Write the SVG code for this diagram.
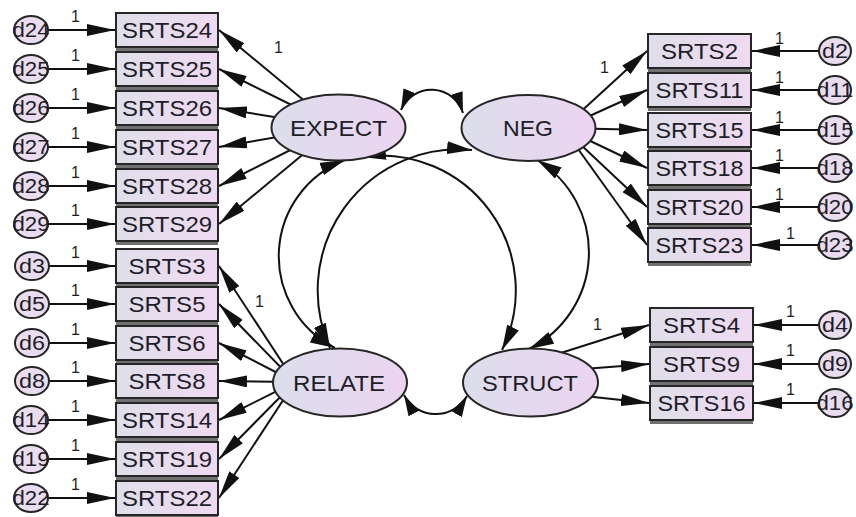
<svg xmlns="http://www.w3.org/2000/svg" width="856" height="517" viewBox="0 0 856 517">
  <defs>
    <linearGradient id="gBox" x1="0" y1="0" x2="1" y2="0">
      <stop offset="0" stop-color="#dfdeea"/>
      <stop offset="1" stop-color="#efdaf1"/>
    </linearGradient>
    <linearGradient id="gLat" x1="0" y1="0" x2="1" y2="0">
      <stop offset="0" stop-color="#dcdeeb"/>
      <stop offset="1" stop-color="#ecd4f1"/>
    </linearGradient>
    <marker id="ah" markerUnits="userSpaceOnUse" markerWidth="28" markerHeight="12" viewBox="0 0 28 12" refX="28" refY="6" orient="auto-start-reverse">
      <path d="M0,0 L28,6 L0,12 Z" fill="#111"/>
    </marker>
    <marker id="ahc" markerUnits="userSpaceOnUse" markerWidth="25" markerHeight="13" viewBox="0 0 25 13" refX="25" refY="6.5" orient="auto-start-reverse">
      <path d="M0,0 L25,6.5 L0,13 Z" fill="#111"/>
    </marker>
    <marker id="ahs" markerUnits="userSpaceOnUse" markerWidth="21" markerHeight="12" viewBox="0 0 21 12" refX="21" refY="6" orient="auto-start-reverse">
      <path d="M0,0 L21,6 L0,12 Z" fill="#111"/>
    </marker>
  </defs>
  <style>
    .box { fill: url(#gBox); stroke: #262626; stroke-width: 2; }
    .sh { fill: #707070; }
    .lat { fill: url(#gLat); stroke: #262626; stroke-width: 2; }
    .err { fill: #eadcef; stroke: #262626; stroke-width: 2; }
    .bt { font-family: "Liberation Sans", Arial, sans-serif; font-size: 22px; fill: #1e1e28; text-anchor: middle; }
    .dt { font-family: "Liberation Sans", Arial, sans-serif; font-size: 20px; fill: #1e1e28; text-anchor: middle; }
    .one { font-family: "Liberation Sans", Arial, sans-serif; font-size: 16px; fill: #1e1e1e; }
    .ln { stroke: #111; stroke-width: 2; fill: none; marker-end: url(#ah); }
    .cov { stroke: #111; stroke-width: 2; fill: none; marker-start: url(#ahc); marker-end: url(#ahc); }
    .covs { stroke: #111; stroke-width: 2; fill: none; marker-start: url(#ahs); marker-end: url(#ahs); }
  </style>
  <rect width="856" height="517" fill="#fff"/>

  <!-- paths: error terms, loadings, covariances -->
  <g id="connectors">
    <!-- error terms to indicators, left column -->
    <line class="ln" x1="48" y1="30" x2="115" y2="30"/>
    <line class="ln" x1="48" y1="69" x2="115" y2="69"/>
    <line class="ln" x1="48" y1="108" x2="115" y2="108"/>
    <line class="ln" x1="48" y1="147" x2="115" y2="147"/>
    <line class="ln" x1="48" y1="186" x2="115" y2="186"/>
    <line class="ln" x1="48" y1="224" x2="115" y2="224"/>
    <line class="ln" x1="48" y1="266" x2="115" y2="266"/>
    <line class="ln" x1="48" y1="304" x2="115" y2="304"/>
    <line class="ln" x1="48" y1="343" x2="115" y2="343"/>
    <line class="ln" x1="48" y1="381" x2="115" y2="381"/>
    <line class="ln" x1="48" y1="420" x2="115" y2="420"/>
    <line class="ln" x1="48" y1="459" x2="115" y2="459"/>
    <line class="ln" x1="48" y1="498" x2="115" y2="498"/>
    <!-- error terms to indicators, right column -->
    <line class="ln" x1="819" y1="51" x2="752" y2="51"/>
    <line class="ln" x1="819" y1="90" x2="752" y2="90"/>
    <line class="ln" x1="819" y1="130" x2="752" y2="130"/>
    <line class="ln" x1="819" y1="168" x2="752" y2="168"/>
    <line class="ln" x1="819" y1="207" x2="752" y2="207"/>
    <line class="ln" x1="819" y1="245" x2="752" y2="245"/>
    <line class="ln" x1="819" y1="325" x2="754" y2="325"/>
    <line class="ln" x1="819" y1="364" x2="754" y2="364"/>
    <line class="ln" x1="819" y1="403" x2="754" y2="403"/>
    <!-- EXPECT loadings -->
    <line class="ln" x1="336" y1="127" x2="219" y2="30"/>
    <line class="ln" x1="336" y1="127" x2="219" y2="69"/>
    <line class="ln" x1="336" y1="127" x2="219" y2="108"/>
    <line class="ln" x1="336" y1="127" x2="219" y2="147"/>
    <line class="ln" x1="336" y1="127" x2="219" y2="186"/>
    <line class="ln" x1="336" y1="127" x2="219" y2="224"/>
    <!-- RELATE loadings -->
    <line class="ln" x1="295" y1="382" x2="219" y2="266"/>
    <line class="ln" x1="295" y1="382" x2="219" y2="304"/>
    <line class="ln" x1="295" y1="382" x2="219" y2="343"/>
    <line class="ln" x1="295" y1="382" x2="219" y2="381"/>
    <line class="ln" x1="295" y1="382" x2="219" y2="420"/>
    <line class="ln" x1="295" y1="382" x2="219" y2="459"/>
    <line class="ln" x1="295" y1="382" x2="219" y2="498"/>
    <!-- NEG loadings -->
    <line class="ln" x1="563" y1="128" x2="647" y2="51"/>
    <line class="ln" x1="563" y1="128" x2="647" y2="90"/>
    <line class="ln" x1="563" y1="128" x2="647" y2="130"/>
    <line class="ln" x1="563" y1="128" x2="647" y2="168"/>
    <line class="ln" x1="563" y1="128" x2="647" y2="207"/>
    <line class="ln" x1="563" y1="128" x2="647" y2="245"/>
    <!-- STRUCT loadings -->
    <line class="ln" x1="545" y1="358" x2="649" y2="325"/>
    <line class="ln" x1="570" y1="370" x2="649" y2="364"/>
    <line class="ln" x1="575" y1="395" x2="649" y2="403"/>
    <!-- covariances -->
    <path class="covs" d="M401,110 A33,33 0 0 1 463,113"/>
    <path class="covs" d="M404,395 A36,36 0 0 0 467,396"/>
    <path class="cov" d="M345,160 A103,103 0 0 0 335,348"/>
    <path class="cov" d="M472,150 A141,141 0 0 0 330,348"/>
    <path class="cov" d="M361,157 A135,135 0 0 1 502,350"/>
    <path class="cov" d="M537,160 A108,108 0 0 1 529,349"/>
  </g>

  <!-- fixed parameter labels -->
  <g id="path-labels">
    <text class="one" x="71" y="22">1</text>
    <text class="one" x="71" y="61">1</text>
    <text class="one" x="71" y="100">1</text>
    <text class="one" x="71" y="139">1</text>
    <text class="one" x="71" y="178">1</text>
    <text class="one" x="71" y="216">1</text>
    <text class="one" x="71" y="258">1</text>
    <text class="one" x="71" y="296">1</text>
    <text class="one" x="71" y="335">1</text>
    <text class="one" x="71" y="373">1</text>
    <text class="one" x="71" y="412">1</text>
    <text class="one" x="71" y="451">1</text>
    <text class="one" x="71" y="490">1</text>
    <text class="one" x="775" y="44">1</text>
    <text class="one" x="775" y="83">1</text>
    <text class="one" x="775" y="123">1</text>
    <text class="one" x="775" y="161">1</text>
    <text class="one" x="775" y="200">1</text>
    <text class="one" x="786" y="239">1</text>
    <text class="one" x="786" y="317">1</text>
    <text class="one" x="786" y="356">1</text>
    <text class="one" x="786" y="395">1</text>
    <text class="one" x="274" y="53">1</text>
    <text class="one" x="255" y="307">1</text>
    <text class="one" x="600" y="73">1</text>
    <text class="one" x="593" y="330">1</text>
  </g>

  <!-- latent variables -->
  <g id="EXPECT"><ellipse class="lat" cx="338.5" cy="127.5" rx="67" ry="33"/><text class="bt" x="338.5" y="135.5" textLength="97" lengthAdjust="spacingAndGlyphs">EXPECT</text></g>
  <g id="NEG"><ellipse class="lat" cx="528.5" cy="128" rx="67" ry="33"/><text class="bt" x="528" y="136" textLength="50" lengthAdjust="spacingAndGlyphs">NEG</text></g>
  <g id="RELATE"><ellipse class="lat" cx="340" cy="382.5" rx="67" ry="34"/><text class="bt" x="339" y="390.5" textLength="92" lengthAdjust="spacingAndGlyphs">RELATE</text></g>
  <g id="STRUCT"><ellipse class="lat" cx="530.5" cy="382.5" rx="67.5" ry="34"/><text class="bt" x="530" y="390.5" textLength="96" lengthAdjust="spacingAndGlyphs">STRUCT</text></g>

  <!-- observed indicators, left column -->
  <g id="SRTS24"><rect class="sh" x="116" y="17" width="102" height="34"/><rect class="box" x="116" y="13" width="102" height="34"/><text class="bt" x="167" y="38" textLength="90" lengthAdjust="spacingAndGlyphs">SRTS24</text></g>
  <g id="SRTS25"><rect class="sh" x="116" y="56" width="102" height="34"/><rect class="box" x="116" y="52" width="102" height="34"/><text class="bt" x="167" y="77" textLength="90" lengthAdjust="spacingAndGlyphs">SRTS25</text></g>
  <g id="SRTS26"><rect class="sh" x="116" y="95" width="102" height="34"/><rect class="box" x="116" y="91" width="102" height="34"/><text class="bt" x="167" y="116" textLength="90" lengthAdjust="spacingAndGlyphs">SRTS26</text></g>
  <g id="SRTS27"><rect class="sh" x="116" y="134" width="102" height="34"/><rect class="box" x="116" y="130" width="102" height="34"/><text class="bt" x="167" y="155" textLength="90" lengthAdjust="spacingAndGlyphs">SRTS27</text></g>
  <g id="SRTS28"><rect class="sh" x="116" y="173" width="102" height="34"/><rect class="box" x="116" y="169" width="102" height="34"/><text class="bt" x="167" y="194" textLength="90" lengthAdjust="spacingAndGlyphs">SRTS28</text></g>
  <g id="SRTS29"><rect class="sh" x="116" y="211" width="102" height="34"/><rect class="box" x="116" y="207" width="102" height="34"/><text class="bt" x="167" y="232" textLength="90" lengthAdjust="spacingAndGlyphs">SRTS29</text></g>
  <g id="SRTS3"><rect class="sh" x="116" y="253" width="102" height="34"/><rect class="box" x="116" y="249" width="102" height="34"/><text class="bt" x="167" y="274" textLength="77" lengthAdjust="spacingAndGlyphs">SRTS3</text></g>
  <g id="SRTS5"><rect class="sh" x="116" y="291" width="102" height="34"/><rect class="box" x="116" y="287" width="102" height="34"/><text class="bt" x="167" y="312" textLength="77" lengthAdjust="spacingAndGlyphs">SRTS5</text></g>
  <g id="SRTS6"><rect class="sh" x="116" y="330" width="102" height="34"/><rect class="box" x="116" y="326" width="102" height="34"/><text class="bt" x="167" y="351" textLength="77" lengthAdjust="spacingAndGlyphs">SRTS6</text></g>
  <g id="SRTS8"><rect class="sh" x="116" y="368" width="102" height="34"/><rect class="box" x="116" y="364" width="102" height="34"/><text class="bt" x="167" y="389" textLength="77" lengthAdjust="spacingAndGlyphs">SRTS8</text></g>
  <g id="SRTS14"><rect class="sh" x="116" y="407" width="102" height="34"/><rect class="box" x="116" y="403" width="102" height="34"/><text class="bt" x="167" y="428" textLength="90" lengthAdjust="spacingAndGlyphs">SRTS14</text></g>
  <g id="SRTS19"><rect class="sh" x="116" y="446" width="102" height="34"/><rect class="box" x="116" y="442" width="102" height="34"/><text class="bt" x="167" y="467" textLength="90" lengthAdjust="spacingAndGlyphs">SRTS19</text></g>
  <g id="SRTS22"><rect class="sh" x="116" y="485" width="102" height="34"/><rect class="box" x="116" y="481" width="102" height="34"/><text class="bt" x="167" y="506" textLength="90" lengthAdjust="spacingAndGlyphs">SRTS22</text></g>

  <!-- observed indicators, right column -->
  <g id="SRTS2"><rect class="sh" x="648" y="38" width="103" height="34"/><rect class="box" x="648" y="34" width="103" height="34"/><text class="bt" x="699.5" y="59" textLength="77" lengthAdjust="spacingAndGlyphs">SRTS2</text></g>
  <g id="SRTS11"><rect class="sh" x="648" y="77" width="103" height="34"/><rect class="box" x="648" y="73" width="103" height="34"/><text class="bt" x="699.5" y="98" textLength="88" lengthAdjust="spacingAndGlyphs">SRTS11</text></g>
  <g id="SRTS15"><rect class="sh" x="648" y="117" width="103" height="34"/><rect class="box" x="648" y="113" width="103" height="34"/><text class="bt" x="699.5" y="138" textLength="88" lengthAdjust="spacingAndGlyphs">SRTS15</text></g>
  <g id="SRTS18"><rect class="sh" x="648" y="155" width="103" height="34"/><rect class="box" x="648" y="151" width="103" height="34"/><text class="bt" x="699.5" y="176" textLength="88" lengthAdjust="spacingAndGlyphs">SRTS18</text></g>
  <g id="SRTS20"><rect class="sh" x="648" y="194" width="103" height="34"/><rect class="box" x="648" y="190" width="103" height="34"/><text class="bt" x="699.5" y="215" textLength="88" lengthAdjust="spacingAndGlyphs">SRTS20</text></g>
  <g id="SRTS23"><rect class="sh" x="648" y="232" width="103" height="34"/><rect class="box" x="648" y="228" width="103" height="34"/><text class="bt" x="699.5" y="253" textLength="88" lengthAdjust="spacingAndGlyphs">SRTS23</text></g>
  <g id="SRTS4"><rect class="sh" x="650" y="312" width="103" height="34"/><rect class="box" x="650" y="308" width="103" height="34"/><text class="bt" x="701.5" y="333" textLength="77" lengthAdjust="spacingAndGlyphs">SRTS4</text></g>
  <g id="SRTS9"><rect class="sh" x="650" y="351" width="103" height="34"/><rect class="box" x="650" y="347" width="103" height="34"/><text class="bt" x="701.5" y="372" textLength="77" lengthAdjust="spacingAndGlyphs">SRTS9</text></g>
  <g id="SRTS16"><rect class="sh" x="650" y="390" width="103" height="34"/><rect class="box" x="650" y="386" width="103" height="34"/><text class="bt" x="701.5" y="411" textLength="88" lengthAdjust="spacingAndGlyphs">SRTS16</text></g>

  <!-- error terms, left -->
  <g id="d24"><ellipse class="err" cx="31" cy="30" rx="17" ry="14"/><text class="dt" x="31" y="37" textLength="37" lengthAdjust="spacingAndGlyphs">d24</text></g>
  <g id="d25"><ellipse class="err" cx="31" cy="69" rx="17" ry="14"/><text class="dt" x="31" y="76" textLength="37" lengthAdjust="spacingAndGlyphs">d25</text></g>
  <g id="d26"><ellipse class="err" cx="31" cy="108" rx="17" ry="14"/><text class="dt" x="31" y="115" textLength="37" lengthAdjust="spacingAndGlyphs">d26</text></g>
  <g id="d27"><ellipse class="err" cx="31" cy="147" rx="17" ry="14"/><text class="dt" x="31" y="154" textLength="37" lengthAdjust="spacingAndGlyphs">d27</text></g>
  <g id="d28"><ellipse class="err" cx="31" cy="186" rx="17" ry="14"/><text class="dt" x="31" y="193" textLength="37" lengthAdjust="spacingAndGlyphs">d28</text></g>
  <g id="d29"><ellipse class="err" cx="31" cy="224" rx="17" ry="14"/><text class="dt" x="31" y="231" textLength="37" lengthAdjust="spacingAndGlyphs">d29</text></g>
  <g id="d3"><ellipse class="err" cx="32" cy="266" rx="17" ry="14"/><text class="dt" x="32" y="273" textLength="26" lengthAdjust="spacingAndGlyphs">d3</text></g>
  <g id="d5"><ellipse class="err" cx="32" cy="304" rx="17" ry="14"/><text class="dt" x="32" y="311" textLength="26" lengthAdjust="spacingAndGlyphs">d5</text></g>
  <g id="d6"><ellipse class="err" cx="32" cy="343" rx="17" ry="14"/><text class="dt" x="32" y="350" textLength="26" lengthAdjust="spacingAndGlyphs">d6</text></g>
  <g id="d8"><ellipse class="err" cx="32" cy="381" rx="17" ry="14"/><text class="dt" x="32" y="388" textLength="26" lengthAdjust="spacingAndGlyphs">d8</text></g>
  <g id="d14"><ellipse class="err" cx="31" cy="420" rx="17" ry="14"/><text class="dt" x="31" y="427" textLength="37" lengthAdjust="spacingAndGlyphs">d14</text></g>
  <g id="d19"><ellipse class="err" cx="31" cy="459" rx="17" ry="14"/><text class="dt" x="31" y="466" textLength="37" lengthAdjust="spacingAndGlyphs">d19</text></g>
  <g id="d22"><ellipse class="err" cx="31" cy="498" rx="17" ry="14"/><text class="dt" x="31" y="505" textLength="37" lengthAdjust="spacingAndGlyphs">d22</text></g>

  <!-- error terms, right -->
  <g id="d2"><ellipse class="err" cx="835" cy="51" rx="16" ry="14"/><text class="dt" x="835" y="58" textLength="26" lengthAdjust="spacingAndGlyphs">d2</text></g>
  <g id="d11"><ellipse class="err" cx="835" cy="90" rx="16" ry="14"/><text class="dt" x="835" y="97" textLength="37" lengthAdjust="spacingAndGlyphs">d11</text></g>
  <g id="d15"><ellipse class="err" cx="835" cy="130" rx="16" ry="14"/><text class="dt" x="835" y="137" textLength="37" lengthAdjust="spacingAndGlyphs">d15</text></g>
  <g id="d18"><ellipse class="err" cx="835" cy="168" rx="16" ry="14"/><text class="dt" x="835" y="175" textLength="37" lengthAdjust="spacingAndGlyphs">d18</text></g>
  <g id="d20"><ellipse class="err" cx="835" cy="207" rx="16" ry="14"/><text class="dt" x="835" y="214" textLength="37" lengthAdjust="spacingAndGlyphs">d20</text></g>
  <g id="d23"><ellipse class="err" cx="835" cy="245" rx="16" ry="14"/><text class="dt" x="835" y="252" textLength="37" lengthAdjust="spacingAndGlyphs">d23</text></g>
  <g id="d4"><ellipse class="err" cx="835" cy="325" rx="16" ry="14"/><text class="dt" x="835" y="332" textLength="26" lengthAdjust="spacingAndGlyphs">d4</text></g>
  <g id="d9"><ellipse class="err" cx="835" cy="364" rx="16" ry="14"/><text class="dt" x="835" y="371" textLength="26" lengthAdjust="spacingAndGlyphs">d9</text></g>
  <g id="d16"><ellipse class="err" cx="835" cy="403" rx="16" ry="14"/><text class="dt" x="835" y="410" textLength="37" lengthAdjust="spacingAndGlyphs">d16</text></g>
</svg>
